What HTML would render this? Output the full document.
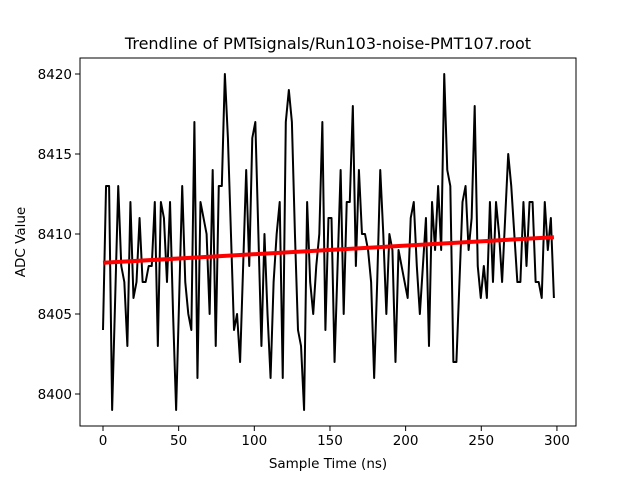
<!DOCTYPE html>
<html><head><meta charset="utf-8"><style>
html,body{margin:0;padding:0;background:#fff;}
svg{display:block;font-family:"DejaVu Sans","Liberation Sans",sans-serif;}
</style></head><body>
<svg id="chart" width="640" height="480" viewBox="0 0 640 480">
<rect width="640" height="480" fill="#fff"/>
<text x="328" y="49" text-anchor="middle" font-size="16">Trendline of PMTsignals/Run103-noise-PMT107.root</text>
<g id="plot"></g>
<rect x="80" y="58" width="496" height="368" fill="none" stroke="#000" stroke-width="1"/>
<text x="328" y="468" text-anchor="middle" font-size="13.5">Sample Time (ns)</text>
<text transform="translate(25,242) rotate(-90)" text-anchor="middle" font-size="13.5">ADC Value</text>
</svg>
<script>
const adcValues = [8404,8413,8413,8399,8406,8413,8408,8407,8403,8412,8406,8407,8411,8407,8407,8408,8408,8412,8403,8412,
8411,8407,8412,8405,8399,8406,8413,8407,8405,8404,8417,8401,8412,8411,8410,8405,8414,8403,8413,8413,
8420,8416,8410,8404,8405,8402,8408,8414,8408,8416,8417,8410,8403,8410,8405,8401,8407,8410,8412,8401,
8417,8419,8417,8410,8404,8403,8399,8412,8407,8405,8408,8410,8417,8404,8411,8411,8402,8408,8414,8405,
8412,8412,8418,8408,8414,8410,8410,8409,8407,8401,8407,8414,8410,8405,8410,8409,8402,8409,8408,8407,
8406,8411,8412,8408,8405,8408,8411,8403,8412,8409,8413,8409,8420,8414,8413,8402,8402,8407,8412,8413,
8409,8411,8418,8408,8406,8408,8406,8412,8407,8412,8410,8407,8411,8415,8413,8410,8407,8407,8412,8408,
8412,8412,8407,8407,8406,8412,8409,8411,8406];
const sampleStep = 298/148;
const fitTimes = [0, 298];
const fitValues = [8408.2, 8409.8];
const xTicks = [0,50,100,150,200,250,300];
const yTicks = [8400,8405,8410,8415,8420];

const L=80,R=576,T=58,B=426;
const xMin=-15.2,xMax=312.6,yMin=8398,yMax=8421;
const xs=v=>L+(v-xMin)/(xMax-xMin)*(R-L);
const ys=v=>B-(v-yMin)/(yMax-yMin)*(B-T);
const NS='http://www.w3.org/2000/svg';
const svg=document.getElementById('chart');
const plot=document.getElementById('plot');

xTicks.forEach(t=>{
  const x=xs(t);
  const l=document.createElementNS(NS,'line');
  l.setAttribute('x1',x);l.setAttribute('x2',x);l.setAttribute('y1',B);l.setAttribute('y2',B+5);
  l.setAttribute('stroke','#000');
  
  
  svg.appendChild(l);
  const tx=document.createElementNS(NS,'text');
  tx.setAttribute('x',x);tx.setAttribute('y',B+19);tx.setAttribute('text-anchor','middle');tx.setAttribute('font-size','13.5');
  tx.textContent=t;
  
  
  svg.appendChild(tx);
});
yTicks.forEach(t=>{
  const y=ys(t);
  const l=document.createElementNS(NS,'line');
  l.setAttribute('x1',L-5);l.setAttribute('x2',L);l.setAttribute('y1',y);l.setAttribute('y2',y);
  l.setAttribute('stroke','#000');
  
  
  svg.appendChild(l);
  const tx=document.createElementNS(NS,'text');
  tx.setAttribute('x',L-8);tx.setAttribute('y',y+5);tx.setAttribute('text-anchor','end');tx.setAttribute('font-size','13.5');
  tx.textContent=t;
  
  
  svg.appendChild(tx);
});

const pts=adcValues.map((v,i)=>xs(i*sampleStep).toFixed(2)+','+ys(v).toFixed(2)).join(' ');
const pl=document.createElementNS(NS,'polyline');
pl.setAttribute('points',pts);pl.setAttribute('fill','none');pl.setAttribute('stroke','#000');pl.setAttribute('stroke-width','2');pl.setAttribute('stroke-linejoin','round');


plot.appendChild(pl);

const fl=document.createElementNS(NS,'line');
fl.setAttribute('x1',xs(fitTimes[0]));fl.setAttribute('y1',ys(fitValues[0]));
fl.setAttribute('x2',xs(fitTimes[1]));fl.setAttribute('y2',ys(fitValues[1]));
fl.setAttribute('stroke','#ff0000');fl.setAttribute('stroke-width','4');


plot.appendChild(fl);
</script>
</body></html>
